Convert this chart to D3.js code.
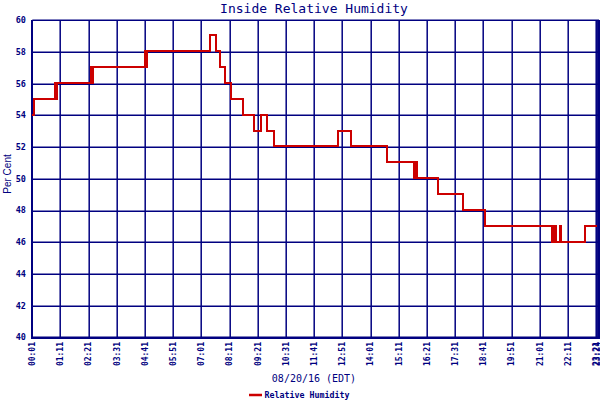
<!DOCTYPE html>
<html><head><meta charset="utf-8">
<script src="https://cdn.jsdelivr.net/npm/d3@7"></script>
<style>body{margin:0;background:#fff}svg{display:block}</style>
</head><body>
<script>
// Times (EDT, 08/20/16) at which the reading changed, and the reading from then on
const changeTimes = ["00:01","00:04","00:57","01:00","01:02","02:28","02:30","02:32","04:41","04:43","04:45",
  "07:23","07:38","07:46","07:59","08:15","08:44","09:11","09:30","09:44","10:00","12:41","13:13",
  "14:42","15:49","15:54","15:57","16:49","17:50","18:46","21:32","21:36","21:41","21:51","21:55","22:54","23:23"];
const humidity = [54,55,56,55,56,57,56,57,58,57,58,
  59,58,57,56,55,54,53,54,53,52,53,52,
  51,50,51,50,49,48,47,46,47,46,47,46,47,47];
const xTickLabels = ["00:01","01:11","02:21","03:31","04:41","05:51","07:01","08:11","09:21","10:31","11:41",
  "12:51","14:01","15:11","16:21","17:31","18:41","19:51","21:01","22:11","23:21","23:24"];
const yTicks = [40,42,44,46,48,50,52,54,56,58,60];
const seriesName = "Relative Humidity";
const titleText = "Inside Relative Humidity";
const xTitle = "08/20/16 (EDT)";
const yTitle = "Per Cent";

const W = 600, H = 400;
const navy = "#000080", red = "#cc0000";
const toMin = s => { const [h, m] = s.split(":").map(Number); return h * 60 + m; };
const data = changeTimes.map((t, i) => ({ t: toMin(t), v: humidity[i] }));

const x = d3.scaleLinear().domain([toMin("00:01"), toMin("23:24")]).range([32.3, 597.3]);
const y = d3.scaleLinear().domain([40, 60]).range([337.3, 20.3]);

const svg = d3.select("body").append("svg").attr("width", W).attr("height", H)
  .style("background", "#fff");

// gridlines
const g = svg.append("g").attr("stroke", navy);
g.selectAll("line.h").data(yTicks).join("line").attr("class", "h")
  .attr("x1", x.range()[0]).attr("x2", 599).attr("y1", d => Math.round(y(d)) + 0.2).attr("y2", d => Math.round(y(d)) + 0.2)
  .attr("stroke-width", 1.5);
g.selectAll("line.v").data(xTickLabels).join("line").attr("class", "v")
  .attr("x1", d => Math.round(x(toMin(d))) + 0.2).attr("x2", d => Math.round(x(toMin(d))) + 0.2)
  .attr("y1", y(60)).attr("y2", y(40)).attr("stroke-width", 1.5);

// frame
const f = svg.append("g").attr("stroke", navy).attr("shape-rendering", "crispEdges");
f.append("line").attr("x1", 32).attr("x2", 32).attr("y1", y(60)).attr("y2", y(40) + 1).attr("stroke-width", 2);
f.append("line").attr("x1", 31).attr("x2", 600).attr("y1", 338).attr("y2", 338).attr("stroke-width", 2);
f.append("line").attr("x1", 599).attr("x2", 599).attr("y1", y(60)).attr("y2", y(40)).attr("stroke-width", 2);

// y tick labels
svg.append("g").selectAll("text").data(yTicks).join("text")
  .attr("x", 26).attr("y", d => y(d)).attr("dy", "0.35em")
  .attr("text-anchor", "end").attr("fill", navy)
  .style("font", "bold 8.5px 'DejaVu Sans Mono'").text(d => d);

// x tick labels
svg.append("g").selectAll("text").data(xTickLabels).join("text")
  .attr("transform", d => `translate(${x(toMin(d))},342) rotate(-90)`)
  .attr("dy", "0.35em").attr("text-anchor", "end").attr("fill", navy)
  .style("font", "bold 8px 'DejaVu Sans Mono'").text(d => d);

// data line
const line = d3.line().x(d => x(d.t)).y(d => y(d.v) - 0.7).curve(d3.curveStepAfter);
svg.append("path").datum(data).attr("d", line)
  .attr("fill", "none").attr("stroke", red).attr("stroke-width", 2)
  .attr("shape-rendering", "crispEdges");

// titles
svg.append("text").attr("x", 314).attr("y", 13).attr("text-anchor", "middle").attr("fill", navy)
  .style("font", "13px 'DejaVu Sans Mono'").text(titleText);
svg.append("text").attr("x", 314).attr("y", 382).attr("text-anchor", "middle").attr("fill", navy)
  .style("font", "10px 'DejaVu Sans Mono'").text(xTitle);
svg.append("text").attr("transform", "translate(10.5,174) rotate(-90)").attr("text-anchor", "middle")
  .attr("fill", navy).style("font", "10px 'Liberation Sans'").text(yTitle);

// legend
svg.append("line").attr("x1", 249).attr("x2", 262).attr("y1", 395).attr("y2", 395)
  .attr("stroke", red).attr("stroke-width", 2.5);
svg.append("text").attr("x", 264.5).attr("y", 398).attr("fill", navy)
  .style("font", "bold 8.3px 'DejaVu Sans Mono'").text(seriesName);
</script>
</body></html>
